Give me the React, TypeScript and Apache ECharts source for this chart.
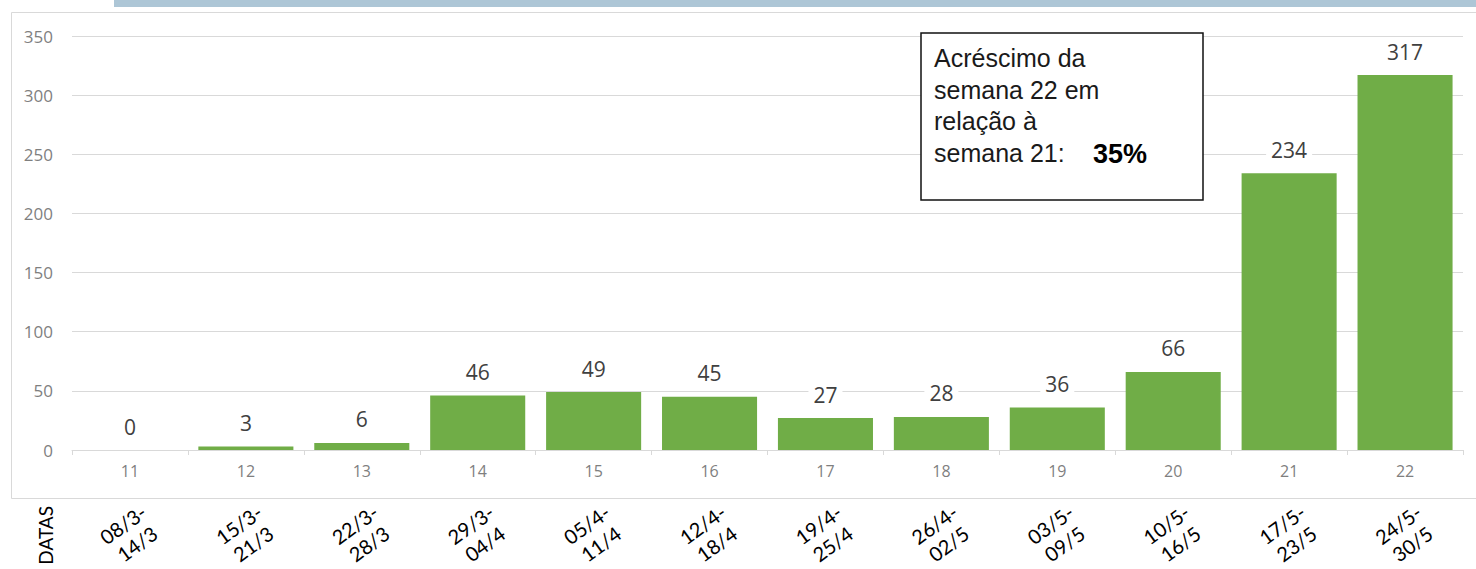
import React, { useEffect, useRef } from "react";
import * as echarts from "echarts";

const weeks = ["11", "12", "13", "14", "15", "16", "17", "18", "19", "20", "21", "22"];
const dateRanges = [
  "08/3-\n14/3",
  "15/3-\n21/3",
  "22/3-\n28/3",
  "29/3-\n04/4",
  "05/4-\n11/4",
  "12/4-\n18/4",
  "19/4-\n25/4",
  "26/4-\n02/5",
  "03/5-\n09/5",
  "10/5-\n16/5",
  "17/5-\n23/5",
  "24/5-\n30/5",
];
const cases = [0, 3, 6, 46, 49, 45, 27, 28, 36, 66, 234, 317];
const yTicks = { min: 0, max: 350, interval: 50 };
const noteLines = ["Acréscimo da", "semana 22 em", "relação à"];
const noteLast = "semana 21:";
const notePct = "35%";
const axisTitle = "DATAS";

export default function App() {
  const ref = useRef<HTMLDivElement>(null);
  useEffect(() => {
    if (!ref.current) return;
    const chart = echarts.init(ref.current, undefined, { renderer: "svg" });
    const noteFont = "'Liberation Sans', Arial, sans-serif";
    chart.setOption({
      animation: false,
      backgroundColor: "#ffffff",
      grid: { left: 72, right: 13, top: 36, bottom: 119, containLabel: false, outerBoundsMode: "none" },
      xAxis: [
        {
          type: "category",
          data: weeks,
          position: "bottom",
          axisLine: { show: true, lineStyle: { color: "#d9d9d9", width: 1 } },
          axisTick: { show: true, length: 5, lineStyle: { color: "#d9d9d9" } },
          axisLabel: { color: "#7f7f7f", fontSize: 16, margin: 13, fontFamily: "'Open Sans', sans-serif" },
        },
        {
          type: "category",
          data: dateRanges,
          position: "bottom",
          axisLine: { show: false },
          axisTick: { show: false },
          splitLine: { show: false },
          axisLabel: {
            interval: 0,
            rotate: 36,
            align: "center",
            verticalAlign: "middle",
            margin: 84,
            fontSize: 20,
            lineHeight: 24,
            color: "#000000",
            fontFamily: "Lato, 'Open Sans', sans-serif",
          },
        },
      ],
      yAxis: {
        type: "value",
        min: yTicks.min,
        max: yTicks.max,
        interval: yTicks.interval,
        axisLine: { show: false },
        axisTick: { show: false },
        splitLine: { lineStyle: { color: "#d9d9d9", width: 1 } },
        axisLabel: { color: "#7f7f7f", fontSize: 17, margin: 19, fontFamily: "'Open Sans', sans-serif" },
      },
      series: [
        {
          type: "bar",
          data: cases,
          xAxisIndex: 0,
          barCategoryGap: "18%",
          itemStyle: { color: "#70ad47" },
          label: {
            show: true,
            position: "top",
            distance: 13,
            fontSize: 21,
            color: "#404040",
            fontFamily: "'Open Sans', sans-serif",
            backgroundColor: "#ffffff",
            padding: [0, 5],
          },
        },
      ],
      graphic: [
        {
          type: "rect",
          z: -1,
          shape: { x: 114, y: 0, width: 1370, height: 7 },
          style: { fill: "#adc6d6" },
        },
        {
          type: "rect",
          z: -1,
          shape: { x: 11.5, y: 12.5, width: 1470, height: 486 },
          style: { fill: "none", stroke: "#d9d9d9", lineWidth: 1 },
        },
        {
          type: "rect",
          z: 100,
          shape: { x: 921, y: 33, width: 282, height: 167 },
          style: { fill: "#ffffff", stroke: "#111111", lineWidth: 1.5 },
        },
        ...noteLines.map((t, i) => ({
          type: "text",
          z: 101,
          x: 934,
          y: 58 + i * 31.5,
          style: {
            text: t,
            font: `25px ${noteFont}`,
            fill: "#1a1a1a",
            verticalAlign: "middle",
          },
        })),
        {
          type: "text",
          z: 101,
          x: 934,
          y: 58 + 3 * 31.5,
          style: {
            text: noteLast,
            font: `25px ${noteFont}`,
            fill: "#1a1a1a",
            verticalAlign: "middle",
          },
        },
        {
          type: "text",
          z: 101,
          x: 1093,
          y: 59 + 3 * 31.5,
          style: {
            text: notePct,
            font: `bold 27px ${noteFont}`,
            fill: "#000000",
            verticalAlign: "middle",
          },
        },
        {
          type: "text",
          z: 101,
          x: 45,
          y: 506,
          rotation: Math.PI / 2,
          style: {
            text: axisTitle,
            font: "19px Lato, 'Open Sans', sans-serif",
            fill: "#000000",
            align: "right",
            verticalAlign: "middle",
          },
        },
      ],
    });
    return () => chart.dispose();
  }, []);
  return (
    <div
      ref={ref}
      style={{ position: "fixed", left: 0, top: 0, width: 1476, height: 569, background: "#fff" }}
    />
  );
}
